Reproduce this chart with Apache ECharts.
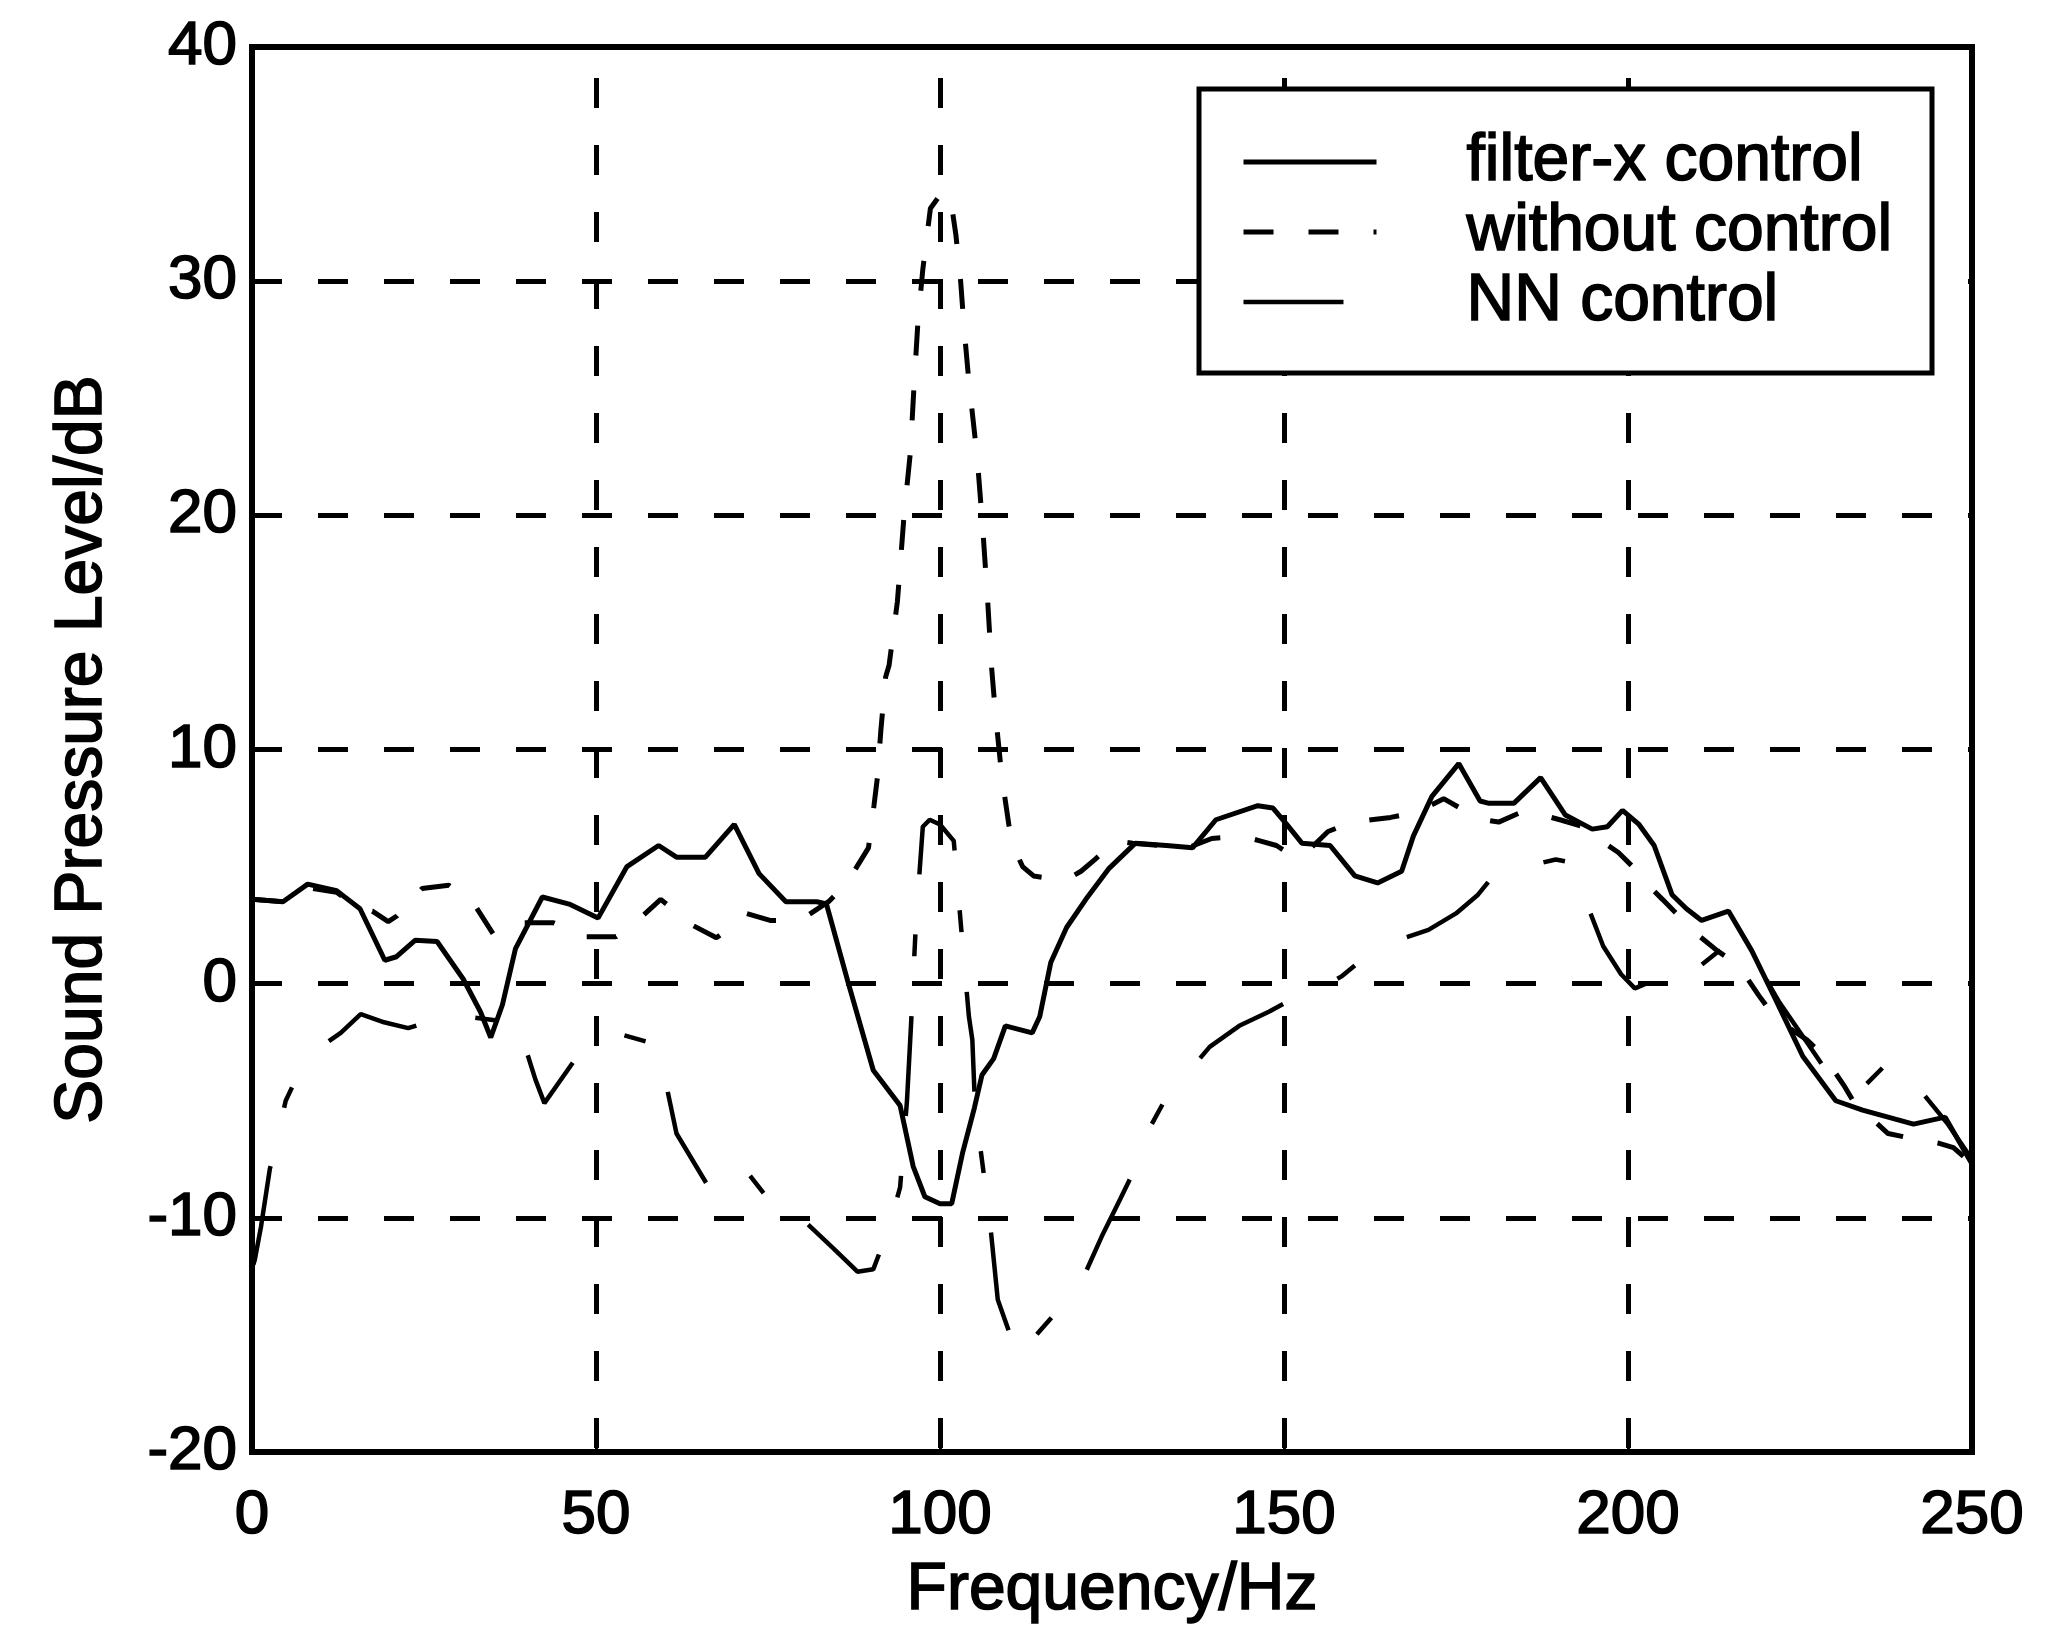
<!DOCTYPE html>
<html><head><meta charset="utf-8">
<script src="https://cdn.jsdelivr.net/npm/echarts@6/dist/echarts.min.js"></script>
<style>html,body{margin:0;padding:0;background:#fff}#c{width:2054px;height:1636px}</style>
</head><body><div id="c"></div>
<script>
const seriesNames = ['filter-x control', 'without control', 'NN control'];

const filterFreq = [0, 4.5, 8.1, 12.3, 15.7, 19.3, 21, 23.7, 26.9, 30.7, 33.2, 34.7, 36.4, 38.3, 42.2, 46.1, 50.3, 54.5, 59.1, 61.7, 65.9, 70.1, 73.7, 77.6, 82.1, 83.5, 86.6, 90.3, 94.2, 96.1, 97.8, 100, 101.7, 103.3, 105, 106.1, 107.8, 109.5, 113.4, 114.5, 116.1, 118.4, 121.2, 124.5, 128.4, 132.9, 136.7, 140.1, 146.2, 148.4, 150.4, 152.6, 156.7, 160.3, 163.6, 167.1, 168.8, 171.5, 175.4, 178.5, 179.8, 183.4, 187.3, 190.9, 194.8, 197, 199.2, 201.6, 203.8, 206.4, 208.5, 210.7, 214.6, 218, 221.5, 225.4, 230.2, 234.1, 241.5, 246.1, 250];
const filterLevel = [3.6, 3.5, 4.25, 3.97, 3.2, 1.0, 1.15, 1.85, 1.8, 0.2, -1.2, -2.3, -0.9, 1.5, 3.7, 3.4, 2.8, 5.0, 5.9, 5.4, 5.4, 6.8, 4.7, 3.5, 3.5, 3.4, 0.1, -3.7, -5.2, -7.8, -9.1, -9.4, -9.4, -7.2, -5.3, -3.9, -3.2, -1.8, -2.1, -1.4, 0.9, 2.4, 3.6, 4.9, 6.0, 5.9, 5.8, 7.0, 7.6, 7.5, 6.8, 6.0, 5.9, 4.6, 4.3, 4.8, 6.3, 8.0, 9.4, 7.8, 7.7, 7.7, 8.8, 7.2, 6.6, 6.7, 7.4, 6.8, 5.9, 3.8, 3.2, 2.7, 3.1, 1.4, -0.7, -3.1, -5.0, -5.4, -6.0, -5.7, -7.7];

const withoutFreq = [0, 4.5, 8.1, 12.3, 15.6, 17.5, 19.8, 21.1, 24.7, 28.6, 32.5, 35.1, 37, 39.3, 43.8, 46, 48.4, 52.9, 54.8, 56.8, 59.4, 61.5, 64, 67.5, 69.5, 71.8, 75.3, 77.8, 80.2, 83.8, 85.5, 87.3, 89.6, 90.4, 90.9, 91.4, 92.1, 92.6, 93.8, 94.1, 94.8, 95.7, 96.2, 96.8, 97.5, 98.6, 100.3, 101.5, 102.3, 103, 103.5, 104.2, 105.4, 106.2, 106.9, 107.5, 108.1, 109, 110, 110.6, 112, 113.6, 118.1, 120.5, 122.5, 125.6, 128, 132, 136, 139.5, 143.9, 146.5, 148.9, 150.5, 152.2, 154.3, 156.4, 159.9, 162.7, 165.5, 169.1, 171.2, 173.2, 176.8, 179, 181.2, 185.1, 187.6, 190.1, 193.6, 196.1, 198.6, 201.7, 203.3, 205, 208, 210.5, 213, 216, 219, 221.5, 226, 228.5, 231.5, 232.7, 235.2, 237.8, 242.7, 245, 247.3, 250];
const withoutLevel = [3.6, 3.5, 4.1, 3.9, 3.2, 3.1, 2.65, 2.9, 4.06, 4.2, 3.3, 2.1, 2.2, 2.6, 2.6, 2.3, 2.0, 2.0, 2.4, 2.9, 3.6, 3.1, 2.5, 1.96, 2.4, 3.0, 2.7, 2.7, 2.8, 3.5, 4.0, 4.7, 5.8, 7.6, 8.8, 10.8, 13.1, 13.6, 16.3, 17.4, 20.1, 22.7, 25.4, 28.3, 30.5, 33.1, 33.8, 33.6, 32.0, 30.0, 28.0, 25.7, 22.5, 19.5, 16.5, 13.5, 11.4, 8.8, 6.8, 5.9, 5.0, 4.6, 4.4, 4.8, 5.3, 6.1, 6.0, 5.9, 5.8, 6.2, 6.3, 6.1, 5.9, 5.6, 5.4, 5.9, 6.5, 6.9, 7.0, 7.1, 7.3, 7.6, 7.9, 7.3, 7.0, 6.9, 7.4, 7.2, 7.0, 6.7, 6.1, 5.6, 4.7, 4.1, 3.6, 2.7, 2.0, 1.4, 0.8, -0.5, -1.5, -2.4, -3.1, -4.4, -5.0, -5.7, -6.4, -6.7, -6.8, -7.0, -7.7];

const nnFreq = [0.2, 0.4, 1.3, 2.6, 2.9, 4.9, 6.5, 9.5, 12.9, 15.8, 19.2, 22.7, 26, 31, 36.4, 38.3, 41.2, 42.5, 46.8, 49, 54, 58.8, 59.7, 61.7, 66.2, 70.8, 74.5, 77.6, 80.5, 84.5, 88, 90.3, 92.5, 94.2, 95.2, 95.8, 96.5, 97.5, 98.5, 100, 102, 103.3, 104.2, 104.7, 105.1, 107.2, 108.4, 111.4, 114, 117, 120.6, 123.5, 126.2, 128.5, 130.4, 133, 136, 139.2, 143.5, 147.8, 150.3, 154.5, 158.3, 163.3, 167, 171, 175, 178.2, 180.4, 185, 189.5, 191.4, 193.5, 196.4, 199, 201, 205, 209.8, 213.2, 218.5, 222, 226, 229, 231.5, 234.6, 238, 242.9, 246.5, 250];
const nnLevel = [-12.0, -11.8, -10.4, -7.9, -7.6, -5.0, -4.0, -2.8, -2.1, -1.3, -1.65, -1.9, -1.6, -1.4, -1.6, -1.4, -4.1, -5.1, -3.3, -3.2, -2.2, -2.6, -3.6, -6.4, -8.6, -7.6, -9.0, -10.2, -10.2, -11.3, -12.3, -12.2, -10.5, -8.7, -5.0, -1.7, 2.6, 6.7, 7.0, 6.8, 6.1, 1.6, -1.4, -2.4, -5.3, -10.0, -13.5, -16.0, -15.0, -14.0, -12.7, -10.8, -9.2, -7.8, -6.2, -4.8, -3.8, -2.7, -1.8, -1.2, -0.8, -0.3, 0.3, 1.5, 1.9, 2.3, 3.0, 3.8, 4.6, 5.0, 5.3, 5.2, 3.8, 1.6, 0.4, -0.2, 0.3, 0.6, 1.4, 1.0, -0.8, -2.5, -3.8, -4.6, -4.3, -3.3, -4.7, -6.0, -7.5];

const xMin = 0, xMax = 250, xStep = 50;
const yMin = -20, yMax = 40, yStep = 10;

const dashWithout = [30, 35];
const dashNN = [100, 60, 22, 60];

const pairs = (xs, ys) => xs.map((x, i) => [x, ys[i]]);
const FONT = '"Liberation Sans", Arial, sans-serif';
const txt = (size) => ({fontSize: size, color: '#000', fontFamily: FONT, textBorderColor: '#000', textBorderWidth: 1.6});

const chart = echarts.init(document.getElementById('c'), null, {renderer: 'canvas'});
chart.setOption({
  animation: false,
  backgroundColor: '#fff',
  grid: {left: 252, right: 82, top: 47, bottom: 184, show: true, borderColor: '#000', borderWidth: 6, backgroundColor: 'transparent'},
  xAxis: {
    type: 'value', min: xMin, max: xMax, interval: xStep,
    name: 'Frequency/Hz', nameLocation: 'middle', nameGap: 106,
    nameTextStyle: txt(66),
    axisLine: {show: true, onZero: false, lineStyle: {color: '#000', width: 6}},
    axisTick: {show: true, inside: true, length: 14, lineStyle: {color: '#000', width: 3}},
    axisLabel: Object.assign(txt(62), {margin: 33}),
    splitLine: {show: true, lineStyle: {color: '#000', width: 5, type: [30, 37], dashOffset: 36}}
  },
  yAxis: {
    type: 'value', min: yMin, max: yMax, interval: yStep,
    name: 'Sound Pressure Level/dB', nameLocation: 'middle', nameGap: 136,
    nameTextStyle: txt(66),
    axisLine: {show: true, onZero: false, lineStyle: {color: '#000', width: 6}},
    axisTick: {show: true, inside: true, length: 14, lineStyle: {color: '#000', width: 3}},
    axisLabel: Object.assign(txt(62), {margin: 15}),
    splitLine: {show: true, lineStyle: {color: '#000', width: 5, type: [30, 36]}}
  },
  legend: {
    data: [
      {name: seriesNames[0], lineStyle: {width: 5, type: 'solid', color: '#000'}},
      {name: seriesNames[1], lineStyle: {width: 5, type: dashWithout, dashOffset: 0, color: '#000'}},
      {name: seriesNames[2], lineStyle: {width: 4.5, type: dashNN, dashOffset: 0, color: '#000'}}
    ],
    orient: 'vertical', left: 1241, top: 127, z: 110,
    itemWidth: 133, itemHeight: 10, itemGap: 0, padding: 0,
    selectedMode: false,
    itemStyle: {opacity: 0},
    textStyle: Object.assign(txt(66), {lineHeight: 70, padding: [0, 0, 0, 85]})
  },
  graphic: [{
    type: 'rect', z: 100,
    shape: {x: 1199, y: 89, width: 733, height: 284},
    style: {fill: '#fff', stroke: '#000', lineWidth: 5}
  }],
  series: [
    {name: seriesNames[0], type: 'line', data: pairs(filterFreq, filterLevel), symbol: 'none', showSymbol: false,
     lineStyle: {color: '#000', width: 5, type: 'solid'}, itemStyle: {color: '#000'}, z: 3},
    {name: seriesNames[1], type: 'line', data: pairs(withoutFreq, withoutLevel), symbol: 'none', showSymbol: false,
     lineStyle: {color: '#000', width: 5, type: dashWithout}, itemStyle: {color: '#000'}, z: 3},
    {name: seriesNames[2], type: 'line', data: pairs(nnFreq, nnLevel), symbol: 'none', showSymbol: false,
     lineStyle: {color: '#000', width: 4.5, type: dashNN}, itemStyle: {color: '#000'}, z: 3}
  ]
});
</script>
</body></html>
